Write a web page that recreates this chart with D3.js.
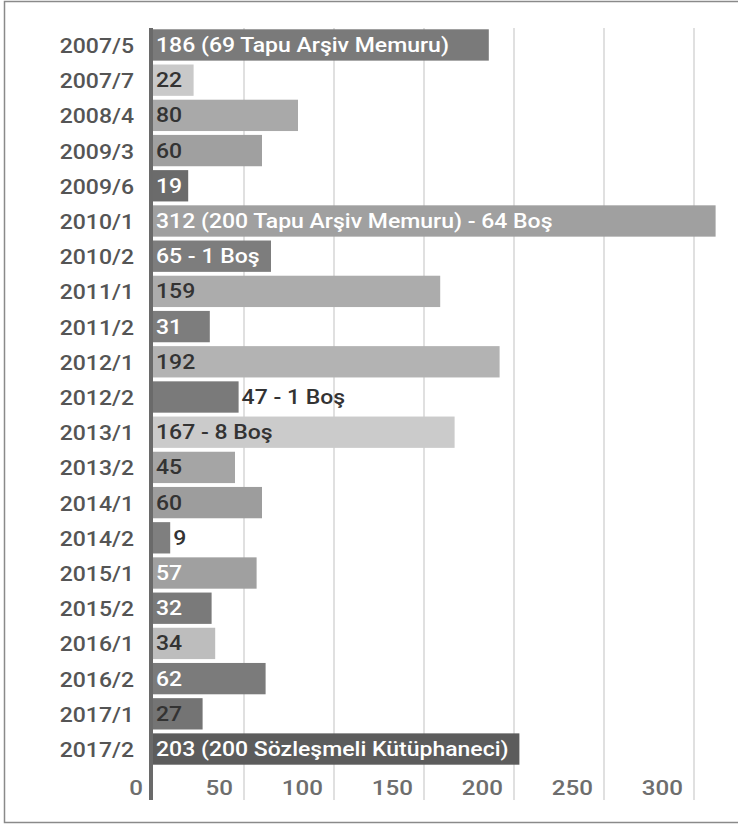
<!DOCTYPE html>
<html>
<head>
<meta charset="utf-8">
<script src="https://cdn.jsdelivr.net/npm/d3@7"></script>
<style>
  html, body { margin: 0; padding: 0; background: #fff; }
  svg { display: block; }
  text { font-family: Roboto, "Noto Sans", sans-serif; }
</style>
</head>
<body>
<script>
// ---- data ----
const categories = ["2007/5","2007/7","2008/4","2009/3","2009/6","2010/1","2010/2","2011/1","2011/2","2012/1","2012/2","2013/1","2013/2","2014/1","2014/2","2015/1","2015/2","2016/1","2016/2","2017/1","2017/2"];
const values = [186, 22, 80, 60, 19, 312, 65, 159, 31, 192, 47, 167, 45, 60, 9, 57, 32, 34, 62, 27, 203];
const notes = ["(69 Tapu Arşiv Memuru)", "", "", "", "", "(200 Tapu Arşiv Memuru) - 64 Boş", "- 1 Boş", "", "", "", "- 1 Boş", "- 8 Boş", "", "", "", "", "", "", "", "", "(200 Sözleşmeli Kütüphaneci)"];
const tickValues = [0, 50, 100, 150, 200, 250, 300];

// ---- styles (separate from data) ----
const barFills = ["#7a7a7a","#c9c9c9","#a9a9a9","#a0a0a0","#6b6b6b","#a0a0a0","#7d7d7d","#acacac","#7d7d7d","#b3b3b3","#7a7a7a","#cbcbcb","#a5a5a5","#9d9d9d","#7f7f7f","#a0a0a0","#7a7a7a","#bdbdbd","#7b7b7b","#747474","#5c5c5c"];
const labelInk = ["#fff","#333","#333","#333","#fff","#fff","#fff","#333","#fff","#333","#333","#333","#333","#333","#333","#fff","#fff","#333","#fff","#333","#fff"];

const W = 738, H = 825;
const SX = 1.15; // horizontal text stretch of the reference

const svg = d3.select("body").append("svg").attr("width", W).attr("height", H);

svg.append("rect").attr("width", W).attr("height", H).attr("fill", "#fff");
// frame
svg.append("rect").attr("x", 4.5).attr("y", 1.5).attr("width", W + 10).attr("height", 821)
  .attr("fill", "none").attr("stroke", "#8a8a8a").attr("stroke-width", 1.5);

const x = d3.scaleLinear().domain([0, 325]).range([154, 739]);
const y = d3.scaleBand().domain(categories).range([29.3, 764.7]).paddingInner(0.11).paddingOuter(0);

const plotTop = 28, plotBottom = 800;

// grid lines
svg.append("g").selectAll("line").data(tickValues.filter(d => d > 0)).join("line")
  .attr("x1", d => x(d)).attr("x2", d => x(d))
  .attr("y1", plotTop).attr("y2", plotBottom)
  .attr("stroke", "#d9d9d9").attr("stroke-width", 1.6);

// bars
const rows = categories.map((c, i) => ({ c, v: values[i], note: notes[i], i }));
svg.append("g").selectAll("rect").data(rows).join("rect")
  .attr("x", x(0) - 1)
  .attr("y", d => y(d.c))
  .attr("width", d => x(d.v) - x(0) + 1)
  .attr("height", y.bandwidth())
  .attr("fill", d => barFills[d.i]);

// zero axis line
svg.append("rect").attr("x", 149).attr("y", plotTop).attr("width", 4).attr("height", plotBottom - plotTop)
  .attr("fill", "#6a6a6a");

// category labels
svg.append("g").selectAll("text").data(rows).join("text")
  .attr("transform", d => `translate(134,${y(d.c) + y.bandwidth() / 2 + 8}) scale(${SX},1)`)
  .attr("text-anchor", "end")
  .attr("font-size", 20).attr("font-weight", 500)
  .attr("fill", "#555")
  .text(d => d.c);

// bar labels
const lbl = svg.append("g").selectAll("text").data(rows).join("text")
  .attr("font-size", 20).attr("font-weight", 500)
  .text(d => d.note ? `${d.v} ${d.note}` : `${d.v}`);
lbl.each(function (d) {
  const w = this.getComputedTextLength() * SX;
  const barW = x(d.v) - x(0);
  const inside = w + 8 < barW;
  const tx = inside ? x(0) + 2 : x(d.v) + 3;
  d3.select(this)
    .attr("transform", `translate(${tx},${y(d.c) + y.bandwidth() / 2 + 7}) scale(${SX},1)`)
    .attr("fill", inside ? labelInk[d.i] : "#333");
});

// x tick labels
svg.append("g").selectAll("text").data(tickValues).join("text")
  .attr("transform", d => `translate(${x(d) - 11},795) scale(${SX},1)`)
  .attr("text-anchor", "end")
  .attr("font-size", 21).attr("font-weight", 500)
  .attr("fill", "#6e6e6e")
  .text(d => d);
</script>
</body>
</html>
